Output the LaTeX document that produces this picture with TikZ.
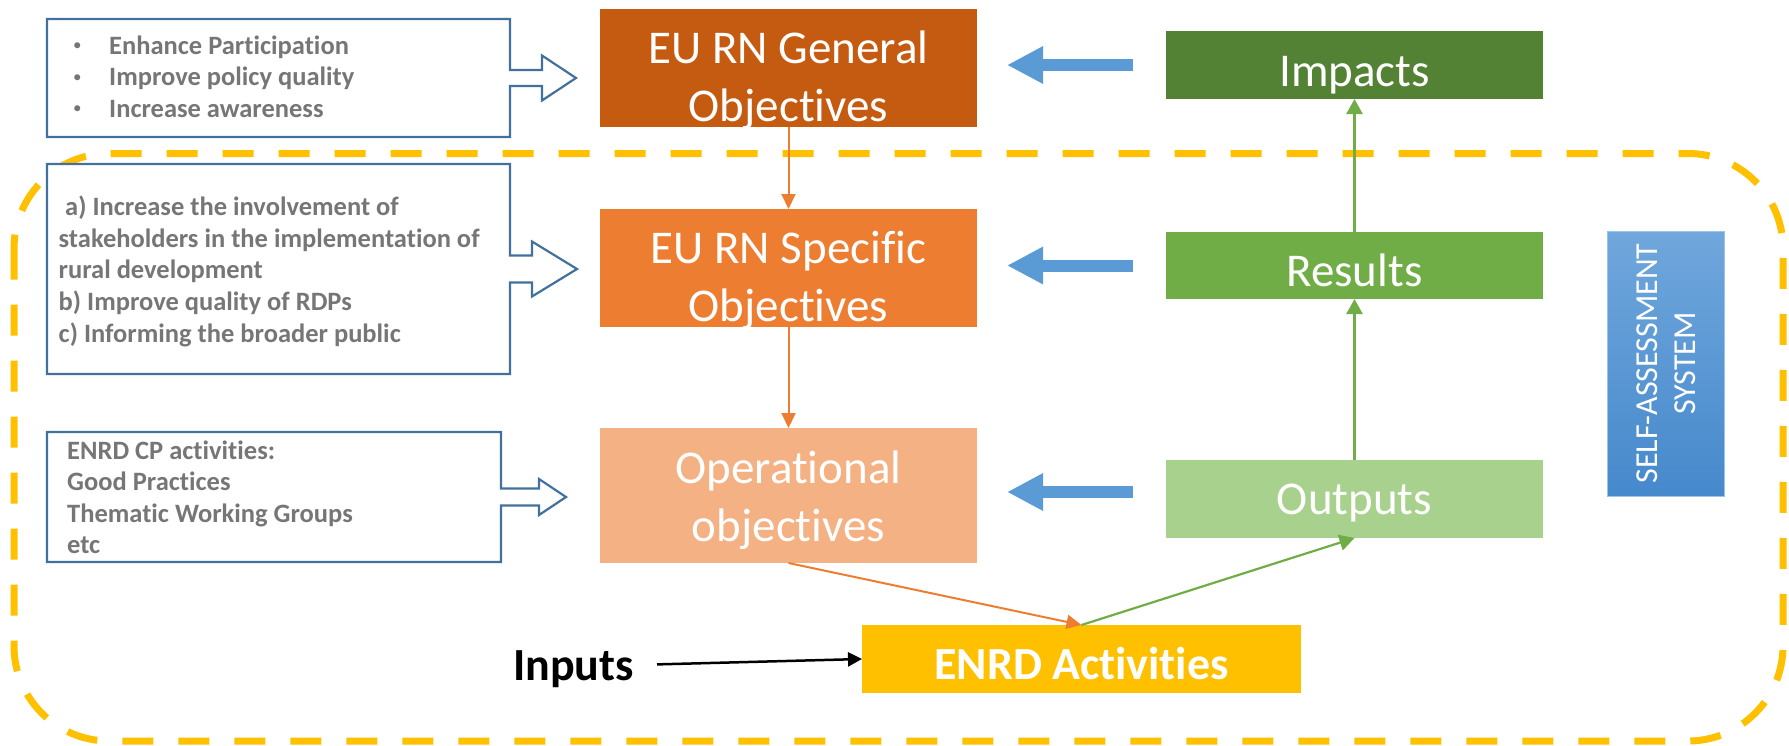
\documentclass[tikz,border=0pt]{standalone}
\usepackage{fontspec}
\setmainfont{Carlito}[Ligatures=NoCommon]
\usetikzlibrary{arrows.meta,calc}
\definecolor{genC}{RGB}{197,90,17}
\definecolor{speC}{RGB}{237,125,49}
\definecolor{opeC}{RGB}{244,177,131}
\definecolor{impC}{RGB}{84,130,53}
\definecolor{resC}{RGB}{112,173,71}
\definecolor{outC}{RGB}{169,209,142}
\definecolor{enrdC}{RGB}{255,192,0}
\definecolor{arrC}{RGB}{91,155,213}
\definecolor{olC}{RGB}{65,113,156}
\definecolor{txtC}{RGB}{118,118,118}
\definecolor{selfTop}{RGB}{112,167,220}
\definecolor{selfBot}{RGB}{70,137,204}
\definecolor{selfEdge}{RGB}{157,195,230}
\newcommand{\mystack}[2]{\begin{tabular}[t]{@{}#1@{}}#2\end{tabular}}
\newcommand{\blt}{\makebox[37pt][l]{\hspace*{1pt}\raisebox{3.5pt}{\fontsize{17}{17}\selectfont\mdseries\textbullet}}}
\newcommand{\arrowcallout}[5]{%
  \draw[outl] (#1.north west) -- (#1.north east) -- ($(#1.east)+(0,-#2)$)
    -- ($(#1.east)+(#3,-#2)$) -- ($(#1.east)+(#3,-#4)$) -- ($(#1.east)+(#5,0)$)
    -- ($(#1.east)+(#3,#4)$) -- ($(#1.east)+(#3,#2)$) -- ($(#1.east)+(0,#2)$)
    -- (#1.south east) -- (#1.south west) -- cycle;}
\begin{document}
\begin{tikzpicture}[x=1pt,y=-1pt,
  box/.style={rectangle, inner sep=0pt, outer sep=0pt, minimum width=377pt},
  wtext/.style={text=white, inner sep=0pt, font=\fontsize{47}{58}\selectfont},
  ltext/.style={text=txtC, inner sep=0pt, font=\fontsize{26.5}{31.6}\selectfont\bfseries},
  holder/.style={rectangle, inner sep=0pt, outer sep=0pt},
  outl/.style={draw=olC, line width=2.2pt, fill=white, line join=miter},
  bigblue/.style={draw=arrC, line width=12pt, -{Triangle[length=36pt,width=35pt]}, shorten <=33pt, shorten >=30pt},
  thinor/.style={draw=speC, line width=2pt, -{Triangle[length=15pt,width=14pt]}},
  thingr/.style={draw=resC, line width=2.2pt, -{Triangle[length=15pt,width=16pt]}},
  blk/.style={draw=black, line width=2.5pt, -{Triangle[length=14pt,width=14pt]}, shorten <=23pt},
  dashbox/.style={draw=enrdC, line width=7pt, dash pattern=on 31pt off 25pt, rounded corners=95pt}]
\useasboundingbox (0,0) rectangle (1789,745);
\draw[dashbox] (14,153.5) rectangle (1783,741);

% coloured boxes
\node[box, fill=genC, minimum height=118pt] (general) at (788.5,68) {};
\node[box, fill=speC, minimum height=118pt] (specific) at (788.5,268) {};
\node[box, fill=opeC, minimum height=135pt] (oper) at (788.5,495.5) {};
\node[box, fill=impC, minimum height=68pt] (impacts) at (1354.5,65) {};
\node[box, fill=resC, minimum height=67pt] (results) at (1354.5,265.5) {};
\node[box, fill=outC, minimum height=78pt] (outputs) at (1354.5,499) {};
\node[box, fill=enrdC, minimum width=439pt, minimum height=68pt] (enrd) at (1081.5,659) {};
\node[box, minimum width=117pt, minimum height=265pt, top color=selfTop, bottom color=selfBot, draw=selfEdge, line width=1pt] (selfbox) at (1665.5,363.5) {};

% texts of coloured boxes
\node[wtext, anchor=base] (generalt) at ($(general.center)+(0,-5)$) {\mystack{c}{EU RN General\\Objectives}};
\node[wtext, anchor=base] (specifict) at ($(specific.center)+(0,-5)$) {\mystack{c}{EU RN Specific\\Objectives}};
\node[wtext, anchor=base] (opert) at ($(oper.center)+(0,-12.5)$) {\mystack{c}{Operational\\objectives}};
\node[wtext, anchor=base] (impactst) at ($(impacts.center)+(0,21)$) {Impacts};
\node[wtext, anchor=base] (resultst) at ($(results.center)+(0,20.5)$) {Results};
\node[wtext, anchor=base] (outputst) at ($(outputs.center)+(0,15)$) {Outputs};
\node[wtext, anchor=base, font=\fontsize{46}{55}\selectfont\bfseries] (enrdt) at ($(enrd.center)+(0,20)$) {ENRD Activities};
\node[text=white, inner sep=0pt, rotate=90, font=\fontsize{32}{38}\selectfont] (selft) at ($(selfbox.center)+(3,0)$) {\mystack{c}{SELF-ASSESSMENT\\SYSTEM}};

% left callout boxes
\node[holder, minimum width=463pt, minimum height=118pt] (b1) at (278.5,78) {};
\node[holder, minimum width=463pt, minimum height=210pt] (b2) at (278.5,269) {};
\node[holder, minimum width=454pt, minimum height=130pt] (b3) at (274,497) {};
\arrowcallout{b1}{8}{32}{22.5}{66}
\arrowcallout{b2}{13.5}{22}{27.5}{67}
\arrowcallout{b3}{8.5}{38}{18}{65}
\node[ltext, anchor=base west] (b1t) at (72,54) {\mystack{l}{\blt Enhance Participation\\ \blt Improve policy quality\\ \blt Increase awareness}};
\node[ltext, anchor=base west] (b2t) at (58.5,215.7) {\mystack{l}{\hspace*{6.5pt}a) Increase the involvement of\\stakeholders in the implementation of\\rural development\\b) Improve quality of RDPs\\c) Informing the broader public}};
\node[ltext, anchor=base west] (b3t) at (67,459) {\mystack{l}{ENRD CP activities:\\Good Practices\\Thematic Working Groups\\etc}};

% inputs
\node[inner sep=0pt, text height=30pt, text depth=0pt, anchor=base west, font=\fontsize{46}{55}\selectfont\bfseries] (inputs) at (513,680) {Inputs};

% connectors
\draw[thinor] (general.south) -- (specific.north);
\draw[thinor] (specific.south) -- (oper.north);
\draw[thinor] (oper.south) -- (enrd.north);
\draw[thingr] (enrd.north) -- (outputs.south);
\draw[thingr] (outputs.north) -- (results.south);
\draw[thingr] (results.north) -- (impacts.south);
\draw[bigblue] (impacts.west) -- (general.east |- impacts.west);
\draw[bigblue] (results.west) -- (specific.east |- results.west);
\draw[bigblue] ($(outputs.west)+(0,-7)$) -- ($(oper.east |- outputs.west)+(0,-7)$);
\draw[blk] (inputs.east) -- (enrd.west);
\end{tikzpicture}
\end{document}
